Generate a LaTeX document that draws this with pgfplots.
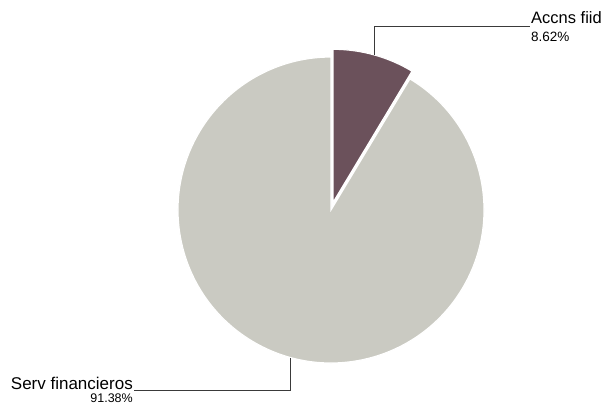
\documentclass[border=0pt]{standalone}
\usepackage{pgfplots}
\usepackage{pgfplotstable}
\pgfplotsset{compat=1.18}
\usepackage{fontspec}
\setmainfont{Liberation Sans}

\definecolor{sliceA}{HTML}{6B515B}
\definecolor{sliceB}{HTML}{CACAC2}
\definecolor{leader}{HTML}{3A3A3A}

\pgfplotstableread{
label share
Accns 8.62
Serv 91.38
}\sharetable

\begin{document}
\begin{tikzpicture}
\useasboundingbox (0,0) rectangle (605pt,406pt);
\pgfplotstablegetelem{0}{share}\of\sharetable \let\shareA\pgfplotsretval
\pgfplotstablegetelem{1}{share}\of\sharetable \let\shareB\pgfplotsretval
\pgfmathsetmacro{\endA}{90-3.6*\shareA}
\pgfmathsetmacro{\midA}{90-1.8*\shareA}
\pgfmathsetmacro{\endB}{\endA-3.6*\shareB}
\begin{axis}[
    at={(0,0)}, anchor=south west,
    width=605pt, height=406pt,
    scale only axis,
    xmin=0, xmax=605, ymin=0, ymax=406,
    hide axis,
    clip=false,
  ]
  % big slice
  \fill[sliceB, draw=white, line width=1.2pt]
    (axis cs:331,196) -- ++(\endA:153pt) arc[start angle=\endA, end angle=\endB, radius=153pt] -- cycle;
  % exploded small slice
  \fill[sliceA, draw=white, line width=1.2pt]
    ([shift={(\midA:8pt)}]axis cs:331,196) -- ++(90:153pt) arc[start angle=90, end angle=\endA, radius=153pt] -- cycle;
  % leader lines
  \draw[leader, line width=0.8pt] (axis cs:374,351) -- (axis cs:374,380) -- (axis cs:530,380);
  \draw[leader, line width=0.8pt] (axis cs:290,48) -- (axis cs:290,16) -- (axis cs:134,16);
  % labels
  \node[anchor=base west, inner sep=0pt, font=\fontsize{16.5}{18}\selectfont] at (axis cs:531,382) {Accns fiid};
  \node[anchor=base west, inner sep=0pt, font=\fontsize{13.5}{16}\selectfont] at (axis cs:531,364) {\shareA\%};
  \node[anchor=base east, inner sep=0pt, font=\fontsize{17}{18}\selectfont] at (axis cs:133,16) {Serv financieros};
  \node[anchor=base east, inner sep=0pt, font=\fontsize{12.5}{16}\selectfont] at (axis cs:133,3) {\shareB\%};
\end{axis}
\end{tikzpicture}
\end{document}
